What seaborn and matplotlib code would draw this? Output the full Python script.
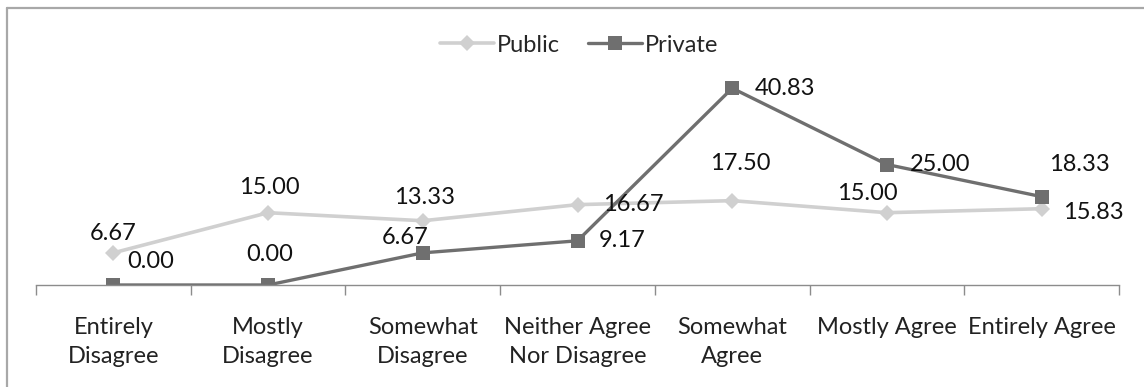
import matplotlib
matplotlib.use("Agg")
import matplotlib.pyplot as plt
import seaborn as sns
import pandas as pd
from matplotlib.lines import Line2D

categories = ["Entirely\nDisagree", "Mostly\nDisagree", "Somewhat\nDisagree",
              "Neither Agree\nNor Disagree", "Somewhat\nAgree", "Mostly Agree",
              "Entirely Agree"]
public = [6.67, 15.00, 13.33, 16.67, 17.50, 15.00, 15.83]
private = [0.00, 0.00, 6.67, 9.17, 40.83, 25.00, 18.33]

# label offsets in points (dx, dy) – styling only
pub_off = [(0, 14), (1, 18), (1, 17), (40, 0), (6, 27), (-14, 14), (37, -3)]
pri_off = [(27, 17), (1, 22), (-13, 11), (32, 0), (38, 0), (38, 0), (27, 23)]

FS = 17

sns.set_theme(style="white")
plt.rcParams["font.family"] = ["Lato", "DejaVu Sans"]

fig = plt.figure(figsize=(11.44, 3.87), dpi=100)
ax = fig.add_axes([36/1144, 1-285/387, (1119-36)/1144, (285-44)/387])

x = list(range(len(categories)))
pub_c = "#d0d0d0"
pri_c = "#6f6f6f"
sns.lineplot(x=x, y=public, ax=ax, color=pub_c, linewidth=2.6, marker="D",
             markersize=8, markeredgewidth=0, label="Public", sort=False)
sns.lineplot(x=x, y=private, ax=ax, color=pri_c, linewidth=2.4, marker="s",
             markersize=10, markeredgewidth=0, label="Private", sort=False)

for i, v in enumerate(public):
    ax.annotate(f"{v:.2f}", (i, v), xytext=pub_off[i], textcoords="offset points",
                ha="center", va="center", fontsize=FS, color="#111111")
for i, v in enumerate(private):
    ax.annotate(f"{v:.2f}", (i, v), xytext=pri_off[i], textcoords="offset points",
                ha="center", va="center", fontsize=FS, color="#111111")

ax.set_xlim(-0.5, 6.5)
ax.set_ylim(0, 50)
ax.set_xticks(x)
ax.set_xticklabels(categories, fontsize=FS, color="#222222", linespacing=1.45)
ax.set_xticks([i - 0.5 for i in range(8)], minor=True)
ax.tick_params(axis="x", which="major", length=0, pad=23)
ax.tick_params(axis="x", which="minor", length=7, width=1, color="#8c8c8c",
               direction="out", bottom=True)
ax.set_yticks([])
for s in ["top", "right", "left"]:
    ax.spines[s].set_visible(False)
ax.spines["bottom"].set_color("#8c8c8c")
ax.spines["bottom"].set_linewidth(1)
ax.set_xlabel("")
ax.set_ylabel("")
ax.patch.set_alpha(0)

ax.get_legend().remove()
handles = [Line2D([], [], color=pub_c, lw=2.6, marker="D", markersize=8, markeredgewidth=0),
           Line2D([], [], color=pri_c, lw=2.4, marker="s", markersize=10, markeredgewidth=0)]
fig.legend(handles, ["Public", "Private"], loc="center", bbox_to_anchor=(0.506, 1-45/387),
           ncol=2, frameon=False, fontsize=FS, handlelength=2.3, handletextpad=0.1,
           columnspacing=1.2)

# chart frame (top and left edges visible)
fig.add_artist(Line2D([6.5/1144, 6.5/1144], [0, 1-7.5/387], transform=fig.transFigure,
                      color="#a8a8a8", lw=1.6))
fig.add_artist(Line2D([6.5/1144, 1], [1-7.5/387, 1-7.5/387], transform=fig.transFigure,
                      color="#a8a8a8", lw=1.6))

fig.savefig("out.png", dpi=100)
